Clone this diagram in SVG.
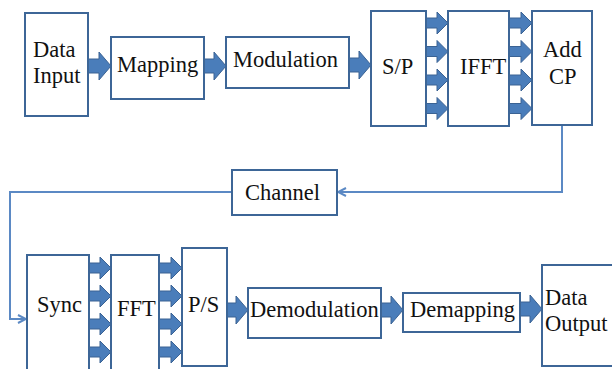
<svg xmlns="http://www.w3.org/2000/svg" width="612" height="369" viewBox="0 0 612 369">
<defs>
<style>
.box{fill:#fff;stroke:#3D6697;stroke-width:2}
.t{font-family:'Liberation Serif','Times New Roman','DejaVu Serif',serif;font-size:22.5px;fill:#111}
.ar{fill:#4A7DBA;stroke:#3A6293;stroke-width:1}
.con{fill:none;stroke:#5B89C4;stroke-width:2}
</style>
<marker id="open" viewBox="0 0 10 10" refX="9" refY="5" markerWidth="10" markerHeight="10" markerUnits="userSpaceOnUse" orient="auto">
<path d="M1,1 L9,5 L1,9" fill="none" stroke="#5B89C4" stroke-width="2"/>
</marker>
</defs>
<g id="connectors">
<path class="con" d="M562,125 V192 H338" marker-end="url(#open)"/>
<path class="con" d="M232,192 H10 V319 H26" marker-end="url(#open)"/>
<polygon class="ar" points="88,59 99,59 99,52 111,66 99,80 99,73 88,73"/>
<polygon class="ar" points="204,59 214,59 214,52 226,66 214,80 214,73 204,73"/>
<polygon class="ar" points="349,58 359,58 359,51 371,65 359,79 359,72 349,72"/>
<polygon class="ar" points="227,303 236,303 236,296 248,310 236,324 236,317 227,317"/>
<polygon class="ar" points="381,303 391,303 391,296 403,310 391,324 391,317 381,317"/>
<polygon class="ar" points="520,302 530,302 530,295 542,309 530,323 530,316 520,316"/>
<polygon class="ar" points="426,18 437,18 437,12 448,23 437,34 437,28 426,28"/>
<polygon class="ar" points="426,46.5 437,46.5 437,40.5 448,51.5 437,62.5 437,56.5 426,56.5"/>
<polygon class="ar" points="426,75 437,75 437,69 448,80 437,91 437,85 426,85"/>
<polygon class="ar" points="426,103.5 437,103.5 437,97.5 448,108.5 437,119.5 437,113.5 426,113.5"/>
<polygon class="ar" points="509,18 521,18 521,12 532,23 521,34 521,28 509,28"/>
<polygon class="ar" points="509,46.5 521,46.5 521,40.5 532,51.5 521,62.5 521,56.5 509,56.5"/>
<polygon class="ar" points="509,75 521,75 521,69 532,80 521,91 521,85 509,85"/>
<polygon class="ar" points="509,103.5 521,103.5 521,97.5 532,108.5 521,119.5 521,113.5 509,113.5"/>
<polygon class="ar" points="89,263 100,263 100,257 111,268 100,279 100,273 89,273"/>
<polygon class="ar" points="89,291 100,291 100,285 111,296 100,307 100,301 89,301"/>
<polygon class="ar" points="89,319 100,319 100,313 111,324 100,335 100,329 89,329"/>
<polygon class="ar" points="89,347 100,347 100,341 111,352 100,363 100,357 89,357"/>
<polygon class="ar" points="89,375 100,375 100,369 111,380 100,391 100,385 89,385"/>
<polygon class="ar" points="159,263 171,263 171,257 182,268 171,279 171,273 159,273"/>
<polygon class="ar" points="159,291 171,291 171,285 182,296 171,307 171,301 159,301"/>
<polygon class="ar" points="159,319 171,319 171,313 182,324 171,335 171,329 159,329"/>
<polygon class="ar" points="159,347 171,347 171,341 182,352 171,363 171,357 159,357"/>
<polygon class="ar" points="159,375 171,375 171,369 182,380 171,391 171,385 159,385"/>
</g>
<g font-family="'Liberation Serif','Times New Roman','DejaVu Serif',serif">
<g id="data-input"><rect class="box" x="25" y="13" width="63" height="103"/><text class="t" x="33" y="57">Data</text><text class="t" x="33" y="83">Input</text></g>
<g id="mapping"><rect class="box" x="111" y="37" width="93" height="62"/><text class="t" x="117" y="72">Mapping</text></g>
<g id="modulation"><rect class="box" x="226" y="37" width="123" height="51"/><text class="t" x="233" y="67">Modulation</text></g>
<g id="sp"><rect class="box" x="371" y="11" width="55" height="115"/><text class="t" x="382" y="74">S/P</text></g>
<g id="ifft"><rect class="box" x="448" y="11" width="61" height="115"/><text class="t" x="460" y="74">IFFT</text></g>
<g id="addcp"><rect class="box" x="532" y="11" width="60" height="114"/><text class="t" x="543" y="57">Add</text><text class="t" x="549" y="84">CP</text></g>
<g id="channel"><rect class="box" x="232" y="170" width="105" height="45"/><text class="t" x="245" y="200">Channel</text></g>
<g id="sync"><rect class="box" x="27" y="255" width="62" height="125"/><text class="t" x="37" y="312">Sync</text></g>
<g id="fft"><rect class="box" x="111" y="255" width="48" height="125"/><text class="t" x="117" y="316">FFT</text></g>
<g id="ps"><rect class="box" x="182" y="248" width="45" height="118"/><text class="t" x="188" y="312">P/S</text></g>
<g id="demodulation"><rect class="box" x="248" y="288" width="133" height="50"/><text class="t" x="250" y="317">Demodulation</text></g>
<g id="demapping"><rect class="box" x="403" y="293" width="117" height="39"/><text class="t" x="410" y="317">Demapping</text></g>
<g id="data-output"><rect class="box" x="542" y="265" width="80" height="101"/><text class="t" x="545" y="305">Data</text><text class="t" x="545" y="331">Output</text></g>
</g>
</svg>
